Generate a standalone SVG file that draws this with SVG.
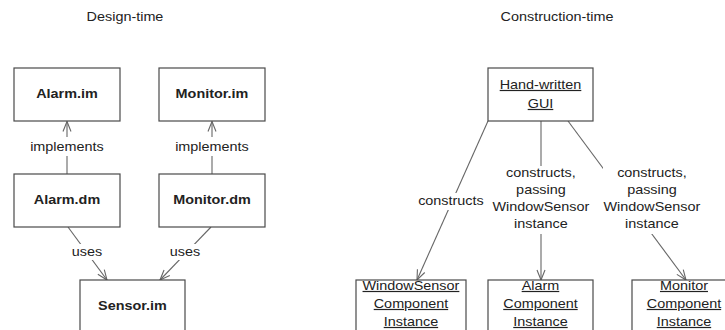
<svg xmlns="http://www.w3.org/2000/svg" width="725" height="330" viewBox="0 0 725 330">
<style>
.bg{fill:#ffffff}
.box{fill:#ffffff;stroke:#4a4a4a;stroke-width:1.2}
.ln{fill:none;stroke:#666666;stroke-width:1.1}
.lbl{fill:#ffffff;stroke:none}
.t{font-family:"Liberation Sans",Arial,sans-serif;font-size:12px;fill:#222222;text-anchor:middle;transform-box:fill-box;transform-origin:center;transform:scaleX(1.2)}
.b{font-weight:bold}
.u{text-decoration:underline}
</style>
<defs>
<marker id="arr" markerUnits="userSpaceOnUse" markerWidth="14" markerHeight="12" refX="11" refY="5" orient="auto" viewBox="0 0 14 10">
<path d="M1,1 L11,5 L1,9" fill="none" stroke="#666666" stroke-width="1.1"/>
</marker>
</defs>
<rect class="bg" x="0" y="0" width="725" height="330"/>
<text class="t" x="125" y="21">Design-time</text>
<text class="t" x="557" y="21">Construction-time</text>
<g id="connectors">
<line class="ln" x1="67" y1="174" x2="67" y2="121.5" marker-end="url(#arr)"/>
<line class="ln" x1="212" y1="174" x2="212" y2="121.5" marker-end="url(#arr)"/>
<line class="ln" x1="68" y1="227" x2="107" y2="280" marker-end="url(#arr)"/>
<line class="ln" x1="211" y1="227" x2="160" y2="280" marker-end="url(#arr)"/>
<line class="ln" x1="488" y1="121" x2="417" y2="280" marker-end="url(#arr)"/>
<line class="ln" x1="541" y1="121" x2="541" y2="280" marker-end="url(#arr)"/>
<line class="ln" x1="568" y1="121" x2="686" y2="280" marker-end="url(#arr)"/>
<rect class="lbl" x="30" y="137" width="74" height="19"/>
<text class="t" x="67" y="151.5">implements</text>
<rect class="lbl" x="175" y="137" width="74" height="19"/>
<text class="t" x="212" y="151.5">implements</text>
<rect class="lbl" x="71" y="244" width="32" height="16"/>
<text class="t" x="87" y="256.5">uses</text>
<rect class="lbl" x="169" y="244" width="32" height="16"/>
<text class="t" x="185" y="256.5">uses</text>
<rect class="lbl" x="418" y="193" width="66" height="17"/>
<text class="t" x="451" y="205">constructs</text>
<rect class="lbl" x="491" y="166" width="100" height="68"/>
<text class="t" x="541" y="177.5"><tspan x="541">constructs,</tspan><tspan x="541" dy="17">passing</tspan><tspan x="541" dy="17">WindowSensor</tspan><tspan x="541" dy="17">instance</tspan></text>
<rect class="lbl" x="603" y="166" width="99" height="68"/>
<text class="t" x="652" y="177.5"><tspan x="652">constructs,</tspan><tspan x="652" dy="17">passing</tspan><tspan x="652" dy="17">WindowSensor</tspan><tspan x="652" dy="17">instance</tspan></text>
</g>
<g id="alarm-im">
<rect class="box" x="14" y="68" width="106" height="53"/>
<text class="t b" x="67" y="98.5">Alarm.im</text>
</g>
<g id="monitor-im">
<rect class="box" x="159" y="68" width="106" height="53"/>
<text class="t b" x="212" y="98.5">Monitor.im</text>
</g>
<g id="alarm-dm">
<rect class="box" x="14" y="174" width="106" height="53"/>
<text class="t b" x="67" y="204.5">Alarm.dm</text>
</g>
<g id="monitor-dm">
<rect class="box" x="159" y="174" width="106" height="53"/>
<text class="t b" x="212" y="204.5">Monitor.dm</text>
</g>
<g id="sensor-im">
<rect class="box" x="80" y="280" width="105" height="53"/>
<text class="t b" x="132.5" y="310.5">Sensor.im</text>
</g>
<g id="gui">
<rect class="box" x="488" y="68" width="105" height="53"/>
<text class="t u" x="540.5" y="89"><tspan x="540.5">Hand-written</tspan><tspan x="540.5" dy="19">GUI</tspan></text>
</g>
<g id="windowsensor-instance">
<rect class="box" x="356" y="280" width="110" height="53"/>
<text class="t u" x="411" y="290"><tspan x="411">WindowSensor</tspan><tspan x="411" dy="18">Component</tspan><tspan x="411" dy="18">Instance</tspan></text>
</g>
<g id="alarm-instance">
<rect class="box" x="488" y="280" width="105" height="53"/>
<text class="t u" x="540.5" y="290"><tspan x="540.5">Alarm</tspan><tspan x="540.5" dy="18">Component</tspan><tspan x="540.5" dy="18">Instance</tspan></text>
</g>
<g id="monitor-instance">
<rect class="box" x="632" y="280" width="105" height="53"/>
<text class="t u" x="684" y="290"><tspan x="684">Monitor</tspan><tspan x="684" dy="18">Component</tspan><tspan x="684" dy="18">Instance</tspan></text>
</g>
</svg>
